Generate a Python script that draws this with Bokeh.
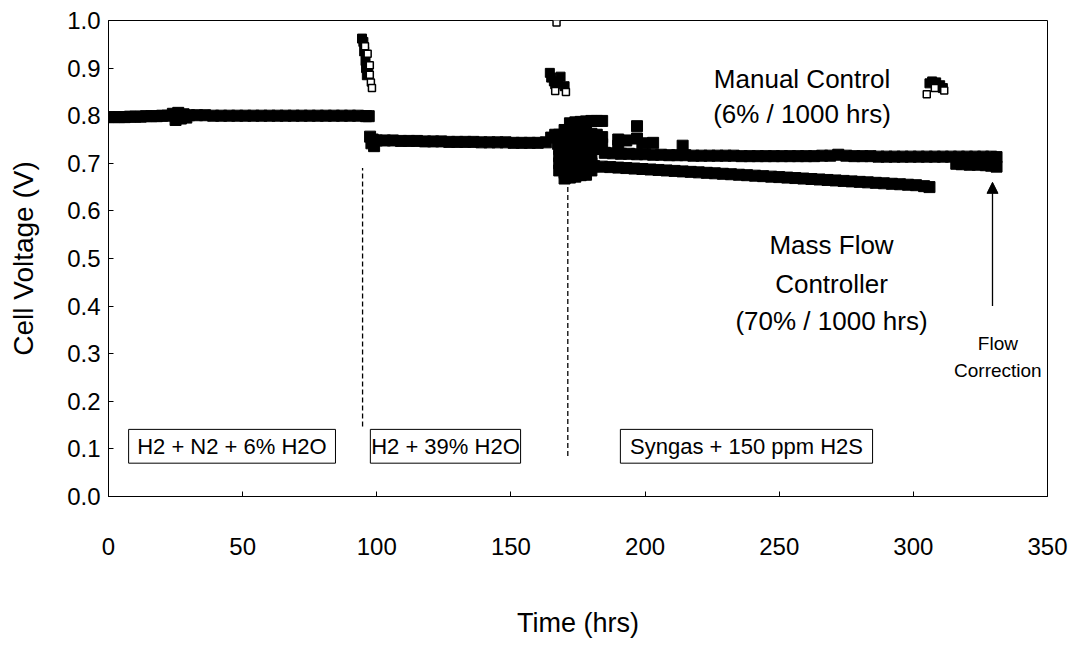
from bokeh.plotting import figure
from bokeh.models import Range1d, FixedTicker, PrintfTickFormatter, Arrow, NormalHead, Label
from bokeh.embed import file_html
from bokeh.resources import INLINE

FONT = "Liberation Sans"

# ---------------- data ----------------
# Stage 1: H2 + N2 + 6% H2O
s1_t = [0, 2, 4, 6, 8, 10, 12, 14, 16, 18, 20, 22, 24, 25, 26, 27, 28, 29, 30, 33, 36, 39, 42,
        45, 48, 51, 54, 57, 60, 63, 66, 69, 72, 75, 78, 81, 84, 87, 90, 93, 96, 97]
s1_v = [0.797, 0.797, 0.797, 0.797, 0.798, 0.798, 0.798, 0.799, 0.799, 0.799, 0.800, 0.800,
        0.804, 0.791, 0.806, 0.794, 0.803, 0.796, 0.801, 0.801, 0.801, 0.800, 0.800, 0.800,
        0.800, 0.800, 0.800, 0.800, 0.800, 0.800, 0.800, 0.800, 0.800, 0.800, 0.800, 0.800,
        0.800, 0.800, 0.800, 0.800, 0.799, 0.799]

# Stage 2: H2 + 39% H2O
s2_t = [97.5, 98, 98.5, 99, 100, 103, 106, 109, 112, 115, 118, 121, 124, 127, 130, 133,
        136, 139, 142, 145, 148, 151, 154, 157, 160, 163, 165, 166.5, 167.5]
s2_v = [0.756, 0.742, 0.750, 0.736, 0.748, 0.748, 0.748, 0.747, 0.747, 0.747, 0.746, 0.746,
        0.746, 0.745, 0.745, 0.745, 0.745, 0.744, 0.744, 0.744, 0.744, 0.743, 0.743, 0.743,
        0.743, 0.744, 0.754, 0.760, 0.741]

# Stage 3 transition scatter (syngas start)
s3x_t = [168, 168, 168, 168, 168, 168,
         170, 170, 170, 170, 170, 170, 170, 170,
         172, 172, 172, 172, 172, 172, 172, 172,
         174, 174, 174, 174, 174, 174, 174, 174,
         176, 176, 176, 176, 176, 176, 176, 176,
         178, 178, 178, 178, 178, 178, 178, 178,
         180, 180, 180, 180, 180, 180, 180,
         182, 182, 182, 182,
         184, 184, 184,
         190, 190, 193, 197, 197, 199, 203, 214]
s3x_v = [0.760, 0.745, 0.730, 0.715, 0.700, 0.685,
         0.770, 0.755, 0.740, 0.725, 0.710, 0.695, 0.680, 0.668,
         0.784, 0.760, 0.745, 0.730, 0.715, 0.700, 0.685, 0.670,
         0.786, 0.762, 0.747, 0.732, 0.717, 0.700, 0.685, 0.672,
         0.787, 0.765, 0.750, 0.735, 0.720, 0.705, 0.690, 0.675,
         0.788, 0.765, 0.750, 0.735, 0.720, 0.705, 0.690, 0.676,
         0.789, 0.762, 0.747, 0.732, 0.715, 0.700, 0.685,
         0.789, 0.760, 0.745, 0.730,
         0.789, 0.755, 0.740,
         0.750, 0.737, 0.748, 0.778, 0.752, 0.742, 0.743, 0.737]

# Manual control band
mc_t = [185, 188, 191, 194, 197, 200, 203, 206, 209, 212, 215, 218, 221, 224, 227, 230, 233,
        236, 239, 242, 245, 248, 251, 254, 257, 260, 263, 266, 269, 272, 275, 278, 281, 284,
        287, 290, 293, 296, 299, 302, 305, 308, 311, 314, 317, 320, 323, 326, 329, 331]
mc_v = [0.722, 0.721, 0.720, 0.720, 0.719, 0.719, 0.718, 0.718, 0.717, 0.717, 0.717, 0.716,
        0.716, 0.716, 0.716, 0.716, 0.716, 0.715, 0.715, 0.715, 0.715, 0.715, 0.715, 0.715,
        0.715, 0.715, 0.715, 0.716, 0.716, 0.718, 0.716, 0.715, 0.715, 0.715, 0.714, 0.714,
        0.714, 0.714, 0.714, 0.714, 0.714, 0.714, 0.714, 0.714, 0.714, 0.714, 0.714, 0.714,
        0.714, 0.713]

# Manual control after flow correction (lower part of band end)
fc_t = [316, 318, 321, 324, 327, 329, 331]
fc_v = [0.699, 0.698, 0.697, 0.697, 0.696, 0.695, 0.693]

# Mass flow controller band
mf_t = [178, 181, 184, 187, 190, 193, 196, 199, 202, 205, 208, 211, 214, 217, 220, 223, 226,
        229, 232, 235, 238, 241, 244, 247, 250, 253, 256, 259, 262, 265, 268, 271, 274, 277,
        280, 283, 286, 289, 292, 295, 298, 301, 304, 306]
mf_v = [0.695, 0.694, 0.693, 0.692, 0.691, 0.690, 0.689, 0.688, 0.687, 0.686, 0.685, 0.684,
        0.683, 0.682, 0.681, 0.680, 0.679, 0.678, 0.677, 0.676, 0.675, 0.674, 0.673, 0.672,
        0.671, 0.670, 0.669, 0.668, 0.667, 0.666, 0.665, 0.664, 0.663, 0.662, 0.661, 0.660,
        0.659, 0.658, 0.657, 0.656, 0.655, 0.654, 0.652, 0.650]

# Spikes (filled and open symbols)
sp_fill_t = [94.5, 95, 95.3, 95.8, 96, 96.3, 96.8, 164.5, 165, 166, 166.5, 167.5, 168.5, 170,
             306, 307, 308.5, 310, 311]
sp_fill_v = [0.962, 0.955, 0.935, 0.915, 0.900, 0.885, 0.892, 0.890, 0.880, 0.872, 0.866,
             0.870, 0.882, 0.862, 0.868, 0.872, 0.870, 0.864, 0.858]
sp_open_t = [95.6, 96.6, 97.4, 97.4, 97.8, 98.2, 167, 166.5, 170.5, 305, 308, 311.5]
sp_open_v = [0.946, 0.930, 0.906, 0.886, 0.870, 0.858, 0.996, 0.852, 0.850, 0.845, 0.858, 0.853]

x_ticks = [0, 50, 100, 150, 200, 250, 300, 350]
y_ticks = [0.0, 0.1, 0.2, 0.3, 0.4, 0.5, 0.6, 0.7, 0.8, 0.9, 1.0]

# ---------------- figure ----------------
p = figure(width=1077, height=643, output_backend="svg", toolbar_location=None,
           x_range=Range1d(0, 350), y_range=Range1d(0, 1.0),
           min_border_left=108, min_border_top=20, min_border_right=30, min_border_bottom=147)
p.xgrid.visible = False
p.ygrid.visible = False
p.outline_line_color = "black"
p.outline_line_width = 1
p.background_fill_color = "white"

for ax in (p.xaxis[0], p.yaxis[0]):
    ax.major_tick_in = 5
    ax.major_tick_out = 0
    ax.minor_tick_in = 0
    ax.minor_tick_out = 0
    ax.axis_line_color = "black"
    ax.major_tick_line_color = "black"
    ax.major_label_text_font = FONT
    ax.major_label_text_font_size = "24px"
    ax.major_label_text_color = "black"
    ax.axis_label_text_font = FONT
    ax.axis_label_text_font_style = "normal"
    ax.axis_label_text_color = "black"

p.xaxis.axis_label_text_font_size = "27px"
p.yaxis.axis_label_text_font_size = "28px"
p.xaxis.ticker = FixedTicker(ticks=x_ticks)
p.yaxis.ticker = FixedTicker(ticks=y_ticks)
p.yaxis.formatter = PrintfTickFormatter(format="%.1f")
p.xaxis.axis_label = "Time (hrs)"
p.yaxis.axis_label = "Cell Voltage (V)"
p.xaxis.major_label_standoff = 41
p.xaxis.axis_label_standoff = 50
p.yaxis.major_label_standoff = 8
p.yaxis.axis_label_standoff = 25

# dashed stage dividers
p.segment(x0=[94.7, 171.2], y0=[0.147, 0.085], x1=[94.7, 171.2], y1=[0.690, 0.670],
          line_color="black", line_width=1.3, line_dash="5 3")

# data
SZ = 11
for t, v in ((s1_t, s1_v), (s2_t, s2_v), (s3x_t, s3x_v), (mc_t, mc_v), (fc_t, fc_v), (mf_t, mf_v)):
    p.scatter(t, v, marker="square", size=SZ, fill_color="black", line_color="black")
p.scatter(sp_fill_t, sp_fill_v, marker="square", size=9, fill_color="black", line_color="black")
p.scatter(sp_open_t, sp_open_v, marker="square", size=7, fill_color="white", line_color="black",
          line_width=1.5)

# stage boxes
box_l = [7.5, 97.6, 190.8]
box_r = [84.6, 153.6, 284.8]
p.quad(left=box_l, right=box_r, bottom=[0.070] * 3, top=[0.141] * 3,
       fill_color="white", line_color="black", line_width=1)
for x, txt in ((46.0, "H2 + N2 + 6% H2O"), (125.6, "H2 + 39% H2O"), (237.8, "Syngas + 150 ppm H2S")):
    p.add_layout(Label(x=x, y=0.1055, text=txt, text_font=FONT, text_font_size="22px",
                       text_align="center", text_baseline="middle", text_color="black"))

# annotations
for y, txt in ((0.878, "Manual Control"), (0.803, "(6% / 1000 hrs)")):
    p.add_layout(Label(x=258.5, y=y, text=txt, text_font=FONT, text_font_size="26px",
                       text_align="center", text_baseline="middle", text_color="black"))
for y, txt in ((0.528, "Mass Flow"), (0.446, "Controller"), (0.368, "(70% / 1000 hrs)")):
    p.add_layout(Label(x=269.5, y=y, text=txt, text_font=FONT, text_font_size="26px",
                       text_align="center", text_baseline="middle", text_color="black"))
for y, txt in ((0.322, "Flow"), (0.265, "Correction")):
    p.add_layout(Label(x=331.5, y=y, text=txt, text_font=FONT, text_font_size="19px",
                       text_align="center", text_baseline="middle", text_color="black"))

p.add_layout(Arrow(end=NormalHead(size=11, fill_color="black", line_color="black"),
                   x_start=329.5, y_start=0.40, x_end=329.5, y_end=0.660,
                   line_color="black", line_width=1.3))

open("out.html", "w").write(file_html(p, INLINE))
